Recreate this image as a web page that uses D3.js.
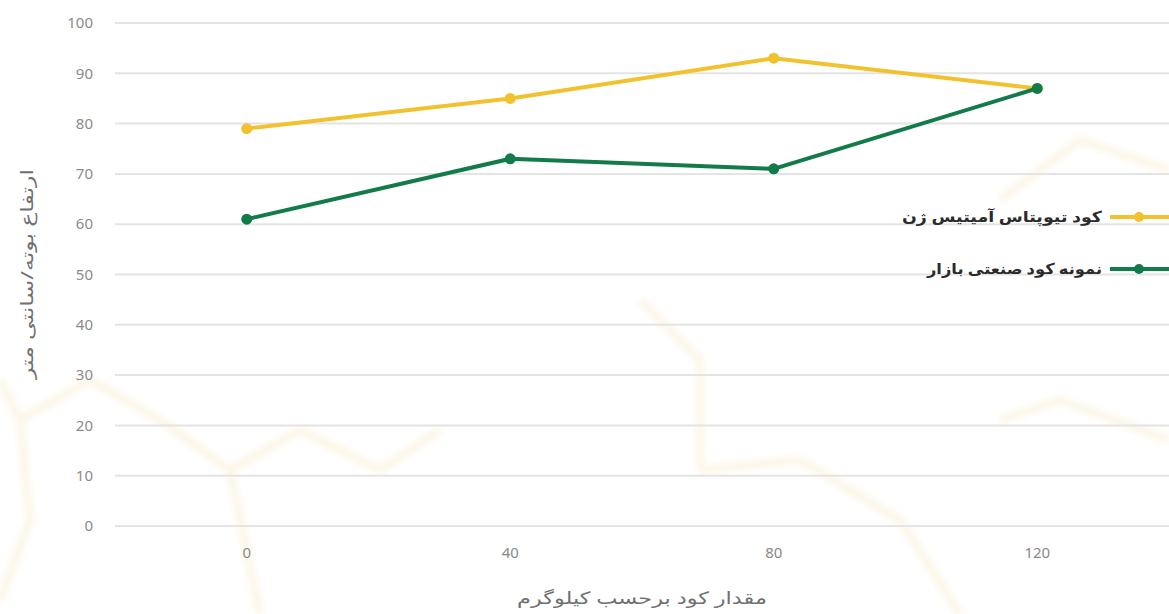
<!DOCTYPE html>
<html><head><meta charset="utf-8">
<script src="https://cdn.jsdelivr.net/npm/d3@7"></script>
<style>body{margin:0;background:#fff}svg{display:block}</style>
</head><body>
<svg id="c" width="1169" height="614"></svg>
<script>
const categories = ["0", "40", "80", "120"];
const seriesNames = ["کود تیوپتاس آمیتیس ژن", "نمونه کود صنعتی بازار"];
const yellowValues = [79, 85, 93, 87];
const greenValues = [61, 73, 71, 87];
const yTicks = [0, 10, 20, 30, 40, 50, 60, 70, 80, 90, 100];
const xTitle = "مقدار کود برحسب کیلوگرم";
const yTitle = "ارتفاع بوته/سانتی متر";
const colors = ["#f2c12e", "#137a4a"];

const svg = d3.select("#c");
const W = 1169, H = 614;
const font = "'Noto Sans', 'DejaVu Sans', sans-serif";

// very faint decorative watermark
const defs = svg.append("defs");
defs.append("filter").attr("id", "blur").append("feGaussianBlur").attr("stdDeviation", 3);
const bg = svg.append("g").attr("fill", "none").attr("stroke", "#fdf6e7").attr("stroke-width", 8)
  .attr("filter", "url(#blur)").attr("stroke-linejoin", "round");
const hexPts = [[[0,600],[30,520],[20,420],[90,380],[160,420],[230,470],[260,614]],
  [[20,420],[0,380]],[[230,470],[300,430],[380,470],[440,430]],
  [[700,470],[800,460],[900,520],[960,614]],[[1000,200],[1080,140],[1169,170]],
  [[1000,420],[1060,400],[1169,440]],[[640,300],[700,360],[700,470]]];
hexPts.forEach(p => bg.append("path").attr("d", d3.line()(p)));

const x = d3.scaleBand().domain(categories).range([115, 1169]);
const y = d3.scaleLinear().domain([0, 100]).range([526, 23]);
const cx = c => x(c) + x.bandwidth() / 2;

// gridlines
svg.append("g").selectAll("line").data(yTicks).join("line")
  .attr("x1", 115).attr("x2", W).attr("y1", d => y(d)).attr("y2", d => y(d))
  .attr("stroke", "#e4e4e4").attr("stroke-width", 2);

// y tick labels
svg.append("g").selectAll("text").data(yTicks).join("text")
  .attr("x", 93).attr("y", d => y(d)).attr("dy", "0.35em")
  .attr("text-anchor", "end").attr("font-family", font).attr("font-size", 15)
  .attr("fill", "#8a8a8a").text(d => d);

// x tick labels
svg.append("g").selectAll("text").data(categories).join("text")
  .attr("x", d => cx(d)).attr("y", 553).attr("dy", "0.35em")
  .attr("text-anchor", "middle").attr("font-family", font).attr("font-size", 15)
  .attr("fill", "#8a8a8a").text(d => d);

// axis titles
svg.append("text").attr("x", 642).attr("y", 598).attr("dy", "0.35em")
  .attr("text-anchor", "middle").attr("font-family", font).attr("font-size", 17)
  .attr("textLength", 250).attr("lengthAdjust", "spacingAndGlyphs")
  .attr("fill", "#707070").text(xTitle);
svg.append("text").attr("transform", "translate(27,274) rotate(-90)").attr("dy", "0.35em")
  .attr("text-anchor", "middle").attr("font-family", font).attr("font-size", 17)
  .attr("textLength", 210).attr("lengthAdjust", "spacingAndGlyphs")
  .attr("fill", "#707070").text(yTitle);

// series
const series = [yellowValues, greenValues];
const line = d3.line().x((d, i) => cx(categories[i])).y(d => y(d));
series.forEach((vals, s) => {
  const g = svg.append("g");
  g.append("path").attr("d", line(vals)).attr("fill", "none")
    .attr("stroke", colors[s]).attr("stroke-width", 4).attr("stroke-linejoin", "round");
  g.selectAll("circle").data(vals).join("circle")
    .attr("cx", (d, i) => cx(categories[i])).attr("cy", d => y(d))
    .attr("r", 5.5).attr("fill", colors[s]);
});

// legend
const legY = [217, 269];
const legLen = [200, 175];
seriesNames.forEach((name, s) => {
  const g = svg.append("g");
  g.append("line").attr("x1", 1110).attr("x2", 1169).attr("y1", legY[s]).attr("y2", legY[s])
    .attr("stroke", colors[s]).attr("stroke-width", 4);
  g.append("circle").attr("cx", 1139).attr("cy", legY[s]).attr("r", 5).attr("fill", colors[s]);
  g.append("text").attr("x", 1102).attr("y", legY[s]).attr("dy", "0.35em")
    .attr("text-anchor", "end").attr("font-family", font).attr("font-size", 15)
    .attr("font-weight", "bold").attr("fill", "#2b2b2b")
    .attr("textLength", legLen[s]).attr("lengthAdjust", "spacingAndGlyphs").text(name);
});
</script>
</body></html>
